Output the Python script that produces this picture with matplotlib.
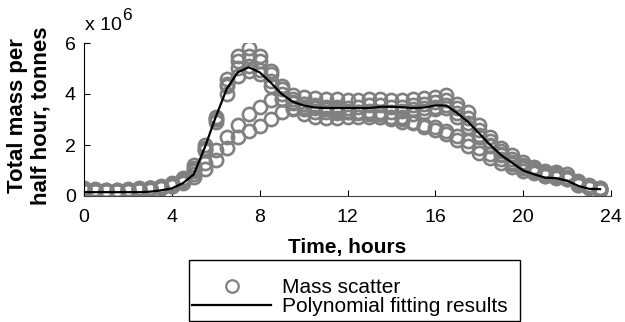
import matplotlib
matplotlib.use('Agg')
import matplotlib.pyplot as plt
from matplotlib.patches import Rectangle
import numpy as np

plt.rcParams['font.family'] = ['Liberation Sans', 'DejaVu Sans']

# half-hour time stamps
hours = np.arange(0, 24, 0.5)

# total mass per half hour, 10^6 tonnes, one list per day
day1 = [0.25, 0.22, 0.2, 0.2, 0.22, 0.25, 0.3, 0.35, 0.45, 0.65, 1.2, 1.9, 3.1, 4.6, 5.5, 5.8,
        5.5, 4.9, 4.3, 3.95, 3.9, 3.85, 3.8, 3.8, 3.75, 3.75, 3.8, 3.8, 3.75, 3.75, 3.8, 3.85,
        3.9, 3.95, 3.6, 3.3, 2.8, 2.3, 1.9, 1.6, 1.35, 1.15, 1.0, 0.95, 0.85, 0.6, 0.45, 0.3]
day2 = [0.2, 0.2, 0.18, 0.18, 0.2, 0.22, 0.28, 0.32, 0.4, 0.6, 1.05, 1.8, 3.0, 4.4, 5.3, 5.5,
        5.3, 4.8, 4.2, 3.8, 3.6, 3.55, 3.5, 3.5, 3.45, 3.5, 3.55, 3.55, 3.5, 3.5, 3.55, 3.6,
        3.7, 3.75, 3.45, 3.05, 2.6, 2.15, 1.75, 1.45, 1.2, 1.05, 0.9, 0.85, 0.75, 0.55, 0.4, 0.3]
day3 = [0.3, 0.28, 0.25, 0.25, 0.27, 0.3, 0.33, 0.38, 0.5, 0.7, 1.1, 2.0, 3.0, 4.3, 5.0, 5.1,
        4.95, 4.5, 4.0, 3.65, 3.4, 3.3, 3.3, 3.25, 3.3, 3.3, 3.35, 3.3, 3.3, 3.35, 3.4, 3.45,
        3.5, 3.55, 3.25, 2.85, 2.4, 2.0, 1.65, 1.35, 1.15, 1.0, 0.85, 0.8, 0.7, 0.5, 0.38, 0.28]
day4 = [0.22, 0.2, 0.2, 0.2, 0.22, 0.25, 0.3, 0.35, 0.45, 0.6, 1.0, 1.8, 2.9, 4.0, 4.7, 4.9,
        4.8, 4.3, 3.8, 3.4, 3.2, 3.1, 3.05, 3.05, 3.1, 3.1, 3.1, 3.1, 3.05, 3.1, 3.2, 3.3,
        3.4, 3.45, 3.1, 2.7, 2.3, 1.95, 1.6, 1.3, 1.1, 0.95, 0.8, 0.75, 0.65, 0.45, 0.35, 0.25]
day5 = [0.28, 0.25, 0.22, 0.22, 0.25, 0.28, 0.3, 0.35, 0.42, 0.55, 0.85, 1.3, 1.8, 2.3, 2.8, 3.2,
        3.5, 3.75, 3.8, 3.7, 3.6, 3.5, 3.45, 3.4, 3.35, 3.3, 3.3, 3.2, 3.1, 3.0, 2.9, 2.8,
        2.7, 2.55, 2.35, 2.15, 1.9, 1.65, 1.45, 1.25, 1.1, 0.95, 0.85, 0.75, 0.7, 0.5, 0.35, 0.25]
day6 = [0.2, 0.2, 0.18, 0.18, 0.2, 0.22, 0.25, 0.3, 0.38, 0.5, 0.75, 1.05, 1.4, 1.9, 2.3, 2.55,
        2.75, 3.0, 3.3, 3.45, 3.5, 3.45, 3.4, 3.35, 3.3, 3.25, 3.2, 3.1, 3.0, 2.9, 2.85, 2.7,
        2.6, 2.45, 2.2, 1.95, 1.7, 1.5, 1.3, 1.15, 1.0, 0.9, 0.8, 0.72, 0.65, 0.45, 0.32, 0.22]
days = [day1, day2, day3, day4, day5, day6]

# polynomial fit, 10^6 tonnes
fit = [0.15, 0.15, 0.15, 0.15, 0.15, 0.15, 0.17, 0.22, 0.3, 0.5, 0.85, 1.9, 3.1, 4.2, 4.85, 5.05,
       4.85, 4.45, 4.0, 3.7, 3.55, 3.47, 3.45, 3.45, 3.45, 3.45, 3.45, 3.5, 3.5, 3.48, 3.45, 3.47,
       3.55, 3.55, 3.25, 2.9, 2.45, 2.0, 1.6, 1.3, 1.0, 0.85, 0.72, 0.7, 0.6, 0.4, 0.28, 0.27]

fig = plt.figure(figsize=(6.25, 3.22), dpi=100)
ax = fig.add_axes([84/625, 126/322, 527/625, 153/322])

grey = '#808080'
for i, d in enumerate(days):
    ax.plot(hours, np.array(d) * 1e6, ls='none', marker='o', ms=9.5, mfc='none',
            mec=grey, mew=1.9, label='Mass scatter' if i == 0 else None)
ax.plot(hours, np.array(fit) * 1e6, color='black', lw=1.6, label='Polynomial fitting results')

ax.set_xlim(0, 24)
ax.set_ylim(0, 6e6)
ax.set_xticks(range(0, 25, 4))
ax.set_yticks([0, 2e6, 4e6, 6e6])
ax.set_yticklabels(['0', '2', '4', '6'])
ax.tick_params(direction='in', length=4, labelsize=14, width=0.8)
ax.tick_params(axis='x', pad=9)
ax.tick_params(axis='y', pad=6)
ax.spines['top'].set_visible(False)
ax.spines['right'].set_visible(False)
ax.spines['bottom'].set_color('#404040')

ax.set_xlabel('Time, hours', fontsize=15, fontweight='bold', va='center')
ax.xaxis.set_label_coords(0.5, (196 - 247) / 153)
ax.set_ylabel('Total mass per\nhalf hour, tonnes', fontsize=16, fontweight='bold',
              va='center', linespacing=1.15)
ax.yaxis.set_label_coords((29 - 84) / 527, (196 - 116) / 153)

# exponent label
fig.text(85/625, 1 - 30/322, 'x 10', fontsize=14, ha='left', va='baseline')
fig.text(122/625, 1 - 20/322, '6', fontsize=12.5, ha='left', va='baseline')

# legend, frame drawn separately (MATLAB style padding)
leg = fig.legend(loc='center left', bbox_to_anchor=(189/625, 1 - 297/322), fontsize=15,
                 frameon=False, handlelength=3.8, handletextpad=0.5, borderpad=0.15,
                 labelspacing=0.0, borderaxespad=0)
leg.legend_handles[0].set_markersize(9)
leg.legend_handles[0].set_markeredgewidth(1.6)
fig.patches.append(Rectangle((189/625, 1 - 321/322), 331/625, 61/322, transform=fig.transFigure,
                             fill=False, edgecolor='black', linewidth=1.0))

fig.savefig('out.png', dpi=100)
